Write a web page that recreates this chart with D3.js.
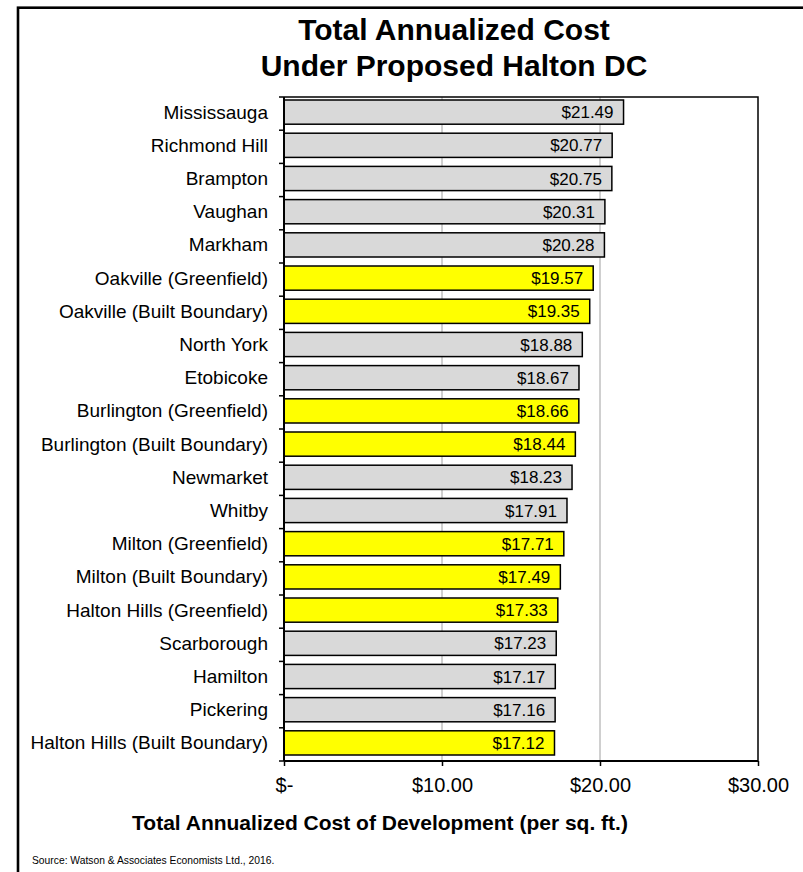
<!DOCTYPE html>
<html><head><meta charset="utf-8">
<script src="https://cdn.jsdelivr.net/npm/d3@7"></script>
<style>body{margin:0;background:#fff;} svg{display:block;font-family:"Liberation Sans",Arial,sans-serif;}</style>
</head><body>
<svg id="c" width="803" height="872"></svg>
<script>
const categories = ["Mississauga","Richmond Hill","Brampton","Vaughan","Markham","Oakville (Greenfield)","Oakville (Built Boundary)","North York","Etobicoke","Burlington (Greenfield)","Burlington (Built Boundary)","Newmarket","Whitby","Milton (Greenfield)","Milton (Built Boundary)","Halton Hills (Greenfield)","Scarborough","Hamilton","Pickering","Halton Hills (Built Boundary)"];
const values = [21.49,20.77,20.75,20.31,20.28,19.57,19.35,18.88,18.67,18.66,18.44,18.23,17.91,17.71,17.49,17.33,17.23,17.17,17.16,17.12];
const halton = [false,false,false,false,false,true,true,false,false,true,true,false,false,true,true,true,false,false,false,true];
const xTicks = [0,10,20,30];
const xTickLabels = ["$-","$10.00","$20.00","$30.00"];

const svg = d3.select("#c");
const L=284, R=758, T=97, B=761;
const x = d3.scaleLinear().domain([0,30]).range([L,R]);
const y = d3.scaleBand().domain(categories).range([T,B]).padding(0);
const barTop = 3, barH = y.bandwidth()-9;

// outer frame
svg.append("rect").attr("x",18).attr("y",7.7).attr("width",820).attr("height",900)
  .attr("fill","none").attr("stroke","#000").attr("stroke-width",2.6);

// title
svg.append("text").attr("x",454).attr("y",40).attr("text-anchor","middle")
  .attr("font-size",30).attr("font-weight","bold").text("Total Annualized Cost");
svg.append("text").attr("x",454).attr("y",76).attr("text-anchor","middle")
  .attr("font-size",30).attr("font-weight","bold").text("Under Proposed Halton DC");

// gridlines
svg.append("g").selectAll("line").data(xTicks.slice(1,-1)).join("line")
  .attr("x1",d=>x(d)).attr("x2",d=>x(d)).attr("y1",T).attr("y2",B)
  .attr("stroke","#a0a0a0").attr("stroke-width",1);

// plot border top/right
svg.append("path").attr("d",`M${L},${T}H${R}V${B}`).attr("fill","none").attr("stroke","#000").attr("stroke-width",1.5);

// bars
svg.append("g").selectAll("rect").data(categories).join("rect")
  .attr("x",x(0)).attr("y",d=>y(d)+barTop)
  .attr("width",(d,i)=>x(values[i])-x(0)).attr("height",barH)
  .attr("fill",(d,i)=>halton[i]?"#ffff00":"#d9d9d9")
  .attr("stroke","#000").attr("stroke-width",1.5);

// value labels
svg.append("g").selectAll("text").data(categories).join("text")
  .attr("x",(d,i)=>x(values[i])-10).attr("y",d=>y(d)+barTop+barH/2+6)
  .attr("text-anchor","end").attr("font-size",17).attr("fill","#000")
  .text((d,i)=>"$"+values[i].toFixed(2));

// y axis
const yb = svg.append("g");
yb.append("line").attr("x1",L).attr("x2",L).attr("y1",T).attr("y2",B).attr("stroke","#000").attr("stroke-width",2);
yb.selectAll("line.t").data(categories.concat([null])).join("line").attr("class","t")
  .attr("x1",L-5).attr("x2",L).attr("y1",(d)=>d===null?B:y(d)).attr("y2",(d)=>d===null?B:y(d))
  .attr("stroke","#000").attr("stroke-width",1.5);
yb.selectAll("text").data(categories).join("text")
  .attr("x",268).attr("y",d=>y(d)+barTop+barH/2+6.5)
  .attr("text-anchor","end").attr("font-size",19).text(d=>d);

// x axis
const xa = svg.append("g").attr("transform",`translate(0,${B})`)
  .call(d3.axisBottom(x).tickValues(xTicks).tickFormat((d,i)=>xTickLabels[i]).tickSize(5).tickPadding(12));
xa.select(".domain").attr("stroke","#000").attr("stroke-width",2).attr("d",`M${L},0H${R}`);
xa.selectAll(".tick line").attr("stroke","#000").attr("stroke-width",1.5);
xa.selectAll(".tick text").attr("font-size",20).attr("fill","#000").attr("font-family","Liberation Sans, Arial, sans-serif");

// axis title
svg.append("text").attr("x",380).attr("y",830).attr("text-anchor","middle")
  .attr("font-size",21).attr("font-weight","bold").text("Total Annualized Cost of Development (per sq. ft.)");

// source
svg.append("text").attr("x",32).attr("y",864).attr("font-size",10.3).text("Source: Watson & Associates Economists Ltd., 2016.");
</script>
</body></html>
